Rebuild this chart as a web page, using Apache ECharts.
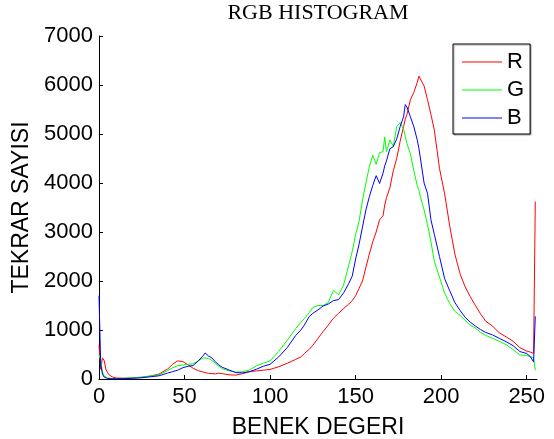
<!DOCTYPE html>
<html>
<head>
<meta charset="utf-8">
<script src="https://cdn.jsdelivr.net/npm/echarts@6/dist/echarts.min.js"></script>
<style>
html,body{margin:0;padding:0;background:#fff;}
#chart{width:554px;height:439px;}
</style>
</head>
<body>
<div id="chart"></div>
<script>
const xVals = [0,1,2,3,4,5,6,8,10,15,20,25,30,35,40,43,46,49,52,55,58,61,62,64,66,68,70,72,76,80,84,88,92,96,100,105,110,115,118,120,123,125,128,131,134,137,140,143,146,148,150,152,154,156,158,160,162,164,166,167,168,170,172,174,176,178,179,180,182,184,186,187,188,190,192,194,196,199,202,205,208,211,214,217,220,223,226,230,234,238,242,246,250,252,254,255];
const rVals = [700,200,430,380,200,130,80,40,20,15,20,35,60,100,200,300,370,355,290,220,170,140,130,115,110,105,120,110,85,80,110,150,165,180,195,250,320,400,450,520,610,690,830,970,1100,1240,1340,1440,1530,1600,1700,1850,2000,2280,2550,2800,3000,3250,3330,3550,3700,3900,4250,4500,4850,5150,5300,5400,5700,5850,6050,6180,6150,5980,5700,5400,5080,4300,3780,3120,2550,2150,1880,1680,1500,1330,1180,1080,940,860,770,640,570,550,520,3620];
const gVals = [500,380,150,60,30,20,10,10,10,15,25,40,60,85,170,230,270,285,300,310,370,430,440,420,380,320,260,210,165,140,150,185,270,320,370,560,790,1030,1160,1230,1360,1460,1500,1500,1560,1810,1720,1920,2330,2600,2950,3220,3650,4000,4330,4570,4380,4620,4640,4940,4640,4880,4750,5150,5230,5100,4950,4800,4600,4250,3950,3850,3700,3450,3150,2800,2400,2080,1750,1540,1380,1300,1200,1100,1040,950,890,830,770,700,600,490,480,460,430,180];
const bVals = [1700,300,100,40,20,10,5,5,5,10,15,25,45,65,120,150,180,230,260,275,370,480,530,470,430,350,290,240,185,130,125,150,200,260,300,450,640,890,1000,1100,1280,1340,1410,1490,1530,1600,1620,1760,1950,2100,2450,2750,3100,3450,3720,3950,4150,3990,4200,4350,4450,4700,4740,4900,5150,5350,5600,5550,5350,5150,4880,4700,4470,4000,3790,3250,2950,2500,2050,1800,1560,1400,1260,1160,1080,1010,950,900,830,760,680,560,520,460,350,1280];
const seriesNames = ['R','G','B'];
const seriesColors = ['#ff0000','#00ff00','#0000ff'];
const xTicks = [0,50,100,150,200,250];
const yTicks = [0,1000,2000,3000,4000,5000,6000,7000];

const allVals = [rVals, gVals, bVals];
const chart = echarts.init(document.getElementById('chart'), null, {renderer:'canvas'});
const sans = "'Liberation Sans', Arial, sans-serif";
chart.setOption({
  animation: false,
  backgroundColor: '#fff',
  title: {
    text: 'RGB HISTOGRAM',
    left: 318, top: 2, padding: 0,
    textAlign: 'center',
    textStyle: {fontFamily: "'Liberation Serif', 'Times New Roman', serif", fontSize: 22, fontWeight: 'normal', color: '#000'}
  },
  legend: {
    orient: 'vertical',
    left: 453, top: 44,
    padding: [7, 6, 5, 9],
    icon: 'rect',
    itemWidth: 40, itemHeight: 1, itemGap: 6,
    borderColor: '#000', borderWidth: 1,
    backgroundColor: '#fff',
    shadowColor: 'rgba(0,0,0,0.35)', shadowOffsetX: 1, shadowOffsetY: 1, shadowBlur: 1,
    textStyle: {fontFamily: sans, fontSize: 22, color: '#000', lineHeight: 22},
    data: seriesNames
  },
  grid: {left: 99, top: 36, width: 438, height: 343, containLabel: false, outerBoundsMode: 'none'},
  xAxis: {
    type: 'value', min: 0, max: 256, interval: 50,
    name: 'BENEK DEGERI', nameLocation: 'middle', nameGap: 37,
    nameTextStyle: {fontFamily: sans, fontSize: 23, color: '#000'},
    axisLine: {show: true, lineStyle: {color: '#000', width: 1}},
    axisTick: {show: true, inside: true, length: 4, lineStyle: {color: '#000'}, customValues: xTicks},
    axisLabel: {fontFamily: sans, fontSize: 22, color: '#000', margin: 7, customValues: xTicks, formatter: v => String(v)},
    splitLine: {show: false}
  },
  yAxis: {
    type: 'value', min: 0, max: 7000, interval: 1000,
    name: 'TEKRAR SAYISI', nameLocation: 'middle', nameGap: 59,
    nameTextStyle: {fontFamily: sans, fontSize: 23, color: '#000'},
    axisLine: {show: true, lineStyle: {color: '#000', width: 1}},
    axisTick: {show: true, inside: true, length: 4, lineStyle: {color: '#000'}, customValues: yTicks},
    axisLabel: {fontFamily: sans, fontSize: 22, color: '#000', margin: 6, customValues: yTicks, formatter: v => String(v)},
    splitLine: {show: false}
  },
  series: seriesNames.map((n, i) => ({
    name: n, type: 'line', symbol: 'none', showSymbol: false,
    color: seriesColors[i],
    lineStyle: {color: seriesColors[i], width: 1},
    data: xVals.map((x, k) => [x, allVals[i][k]])
  }))
});
</script>
</body>
</html>
